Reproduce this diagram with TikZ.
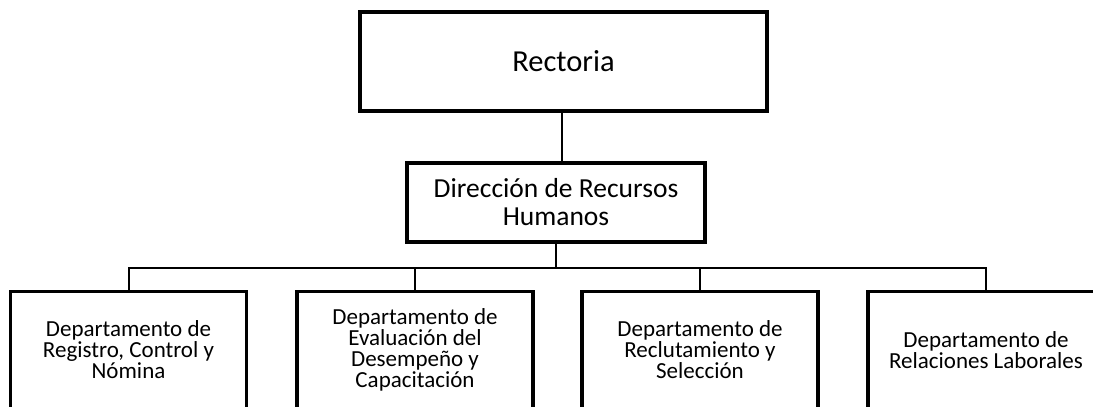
\documentclass[tikz,border=0pt]{standalone}
\usepackage{fontspec}
\setmainfont{Carlito}
\usepackage{tikz}
\usetikzlibrary{positioning, calc}

\tikzset{
  cargo/.style={draw=black, line width=3.5pt, rectangle, fill=white, align=center, inner sep=0pt},
  depto/.style={cargo, minimum width=236pt, minimum height=117pt, font=\fontsize{23}{21}\selectfont},
  enlace/.style={draw=black, line width=2pt}
}

\begin{document}
\begin{tikzpicture}[x=1pt, y=-1pt]
        \clip (0, 0) rectangle (1093, 407);
        \fill[white] (0, 0) rectangle (1093, 407);

        % cargos superiores
        \node[cargo, minimum width=407pt, minimum height=99pt, font=\fontsize{30.5}{36}\selectfont] (rect) at (563.5, 61.5) {Rectoria};
        \node[cargo, minimum width=298pt, minimum height=79pt, font=\fontsize{27.5}{28}\selectfont] (dir) at (556, 202.5) {Dirección de Recursos\\Humanos};

        % departamentos
        \node[depto] (reg) at (128.5, 350) {Departamento de\\Registro, Control y\\Nómina};
        \node[depto] (eva) at (415, 350) {Departamento de\\Evaluación del\\Desempeño y\\Capacitación};
        \node[depto] (rec) at (700, 350) {Departamento de\\Reclutamiento y\\Selección};
        \node[depto] (rel) at (986, 350) {Departamento de\\Relaciones Laborales};

        \coordinate (junta) at (556, 268);

        \draw[enlace] (rect.south -| 562, 0) -- (dir.north -| 562, 0);
        \draw[enlace] (dir.south) -- (junta);
        \foreach \d in {reg, eva, rec, rel}
          \draw[enlace] (\d.north) |- (junta);
      \end{tikzpicture}
\end{document}
